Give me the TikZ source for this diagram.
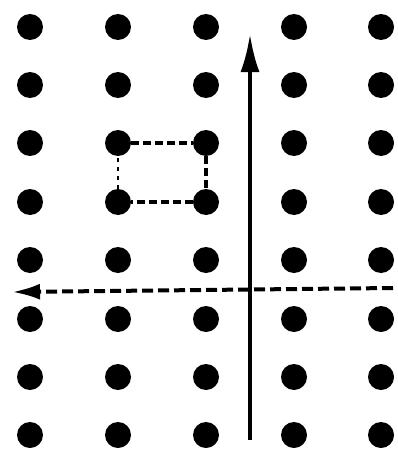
\documentclass[tikz,border=0pt]{standalone}
\usetikzlibrary{arrows.meta}
\tikzset{
  dot/.style={circle,fill=black,inner sep=0pt,minimum size=26pt},
  axis/.style={line width=4pt},
  cell/.style={line width=3.5pt,dash pattern=on 8pt off 4pt},
}
\begin{document}
\begin{tikzpicture}[x=1pt,y=-1pt]
\useasboundingbox (0,0) rectangle (397,452);
\foreach \i/\x in {1/30,2/118,3/206,4/294,5/381}
  \foreach \j/\y in {1/27,2/85,3/143,4/202,5/260,6/319,7/377,8/435}
    \node[dot] (d\i\j) at (\x,\y) {};
\coordinate (vbot) at (250,440);
\coordinate (vtop) at (250,34);
\draw[axis,-{Latex[length=38pt,width=19pt]}] (vbot) -- (vtop);
\coordinate (hright) at (393,288);
\coordinate (hleft) at (12,292);
\draw[axis,dash pattern=on 11pt off 5pt,-{Latex[length=28pt,width=16pt]}] (hright) -- (hleft);
\draw[cell] (d23) -- (d33) -- (d34) -- (d24);
\draw[cell,line width=2pt,dash pattern=on 4pt off 5pt] (d24) -- (d23);
\end{tikzpicture}
\end{document}
